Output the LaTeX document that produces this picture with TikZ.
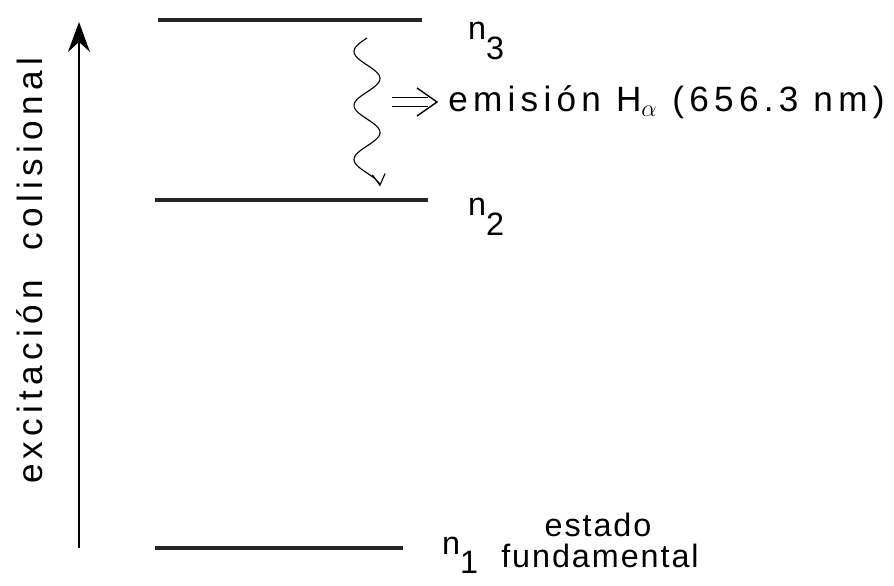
\documentclass[tikz,border=0pt]{standalone}
\usepackage{fontspec}
\setmainfont{Liberation Sans}
\usepackage{tikz}
\usetikzlibrary{arrows.meta, positioning}

\tikzset{
  level/.style={line width=2.6pt, black!85},
  lbl/.style={font=\fontsize{23}{26}\selectfont\addfontfeature{LetterSpace=6}, inner sep=0pt},
  biglbl/.style={font=\fontsize{25}{28}\selectfont\addfontfeature{LetterSpace=15}, inner sep=0pt},
}

\begin{document}
\begin{tikzpicture}[scale=1.0]

  \useasboundingbox (0, 0) rectangle (22.35, 14.625);

  % energy levels
  \coordinate (n3a) at (3.95, 14.125);
  \coordinate (n3b) at (10.55, 14.125);
  \coordinate (n2a) at (3.875, 9.625);
  \coordinate (n2b) at (10.7, 9.625);
  \coordinate (n1a) at (3.875, 0.925);
  \coordinate (n1b) at (10.075, 0.925);

  \draw[level] (n3a) -- (n3b);
  \draw[level] (n2a) -- (n2b);
  \draw[level] (n1a) -- (n1b);

  \node[lbl] (l3) at (12.15, 13.6) {n\raisebox{-0.6em}{3}};
  \node[lbl] (l2) at (12.15, 9.2) {n\raisebox{-0.6em}{2}};
  \node[lbl] (l1) at (11.5, 0.75) {n\raisebox{-0.6em}{1}};

  \node[lbl] (est) at (14.95, 1.5) {estado};
  \node[lbl] (fun) at (15.0, 0.72) {fundamental};

  % collisional excitation
  \coordinate (exb) at (1.975, 0.925);
  \coordinate (ext) at (1.975, 14.075);
  \draw[line width=1pt, -{Stealth[length=0.75cm, width=0.55cm, inset=0.25cm]}] (exb) -- (ext);
  \node[biglbl, rotate=90] (exc) at (0.75, 7.85) {excitación\ \ colisional};

  % emission
  \draw[line width=0.8pt, -{Straight Barb[length=0.28cm, width=0.32cm]}]
    plot[domain=0:2.75, samples=90, smooth] ({9.175 - 0.325*sin(\x*360)}, {13.675 - 1.35*\x});

  \coordinate (ema) at (9.8, 12.075);
  \coordinate (emb) at (10.7, 12.075);
  \coordinate (emt) at (10.925, 12.075);
  \draw[line width=1pt] ([yshift=0.11cm]ema) -- ([yshift=0.11cm]emb);
  \draw[line width=1pt] ([yshift=-0.11cm]ema) -- ([yshift=-0.11cm]emb);
  \draw[line width=1pt] ([xshift=-0.5cm, yshift=0.35cm]emt) -- (emt) -- ([xshift=-0.5cm, yshift=-0.35cm]emt);
  \node[biglbl, anchor=west] (em) at (11.2, 12.075) {emisión H$_\alpha$ (656.3 nm)};

\end{tikzpicture}
\end{document}
